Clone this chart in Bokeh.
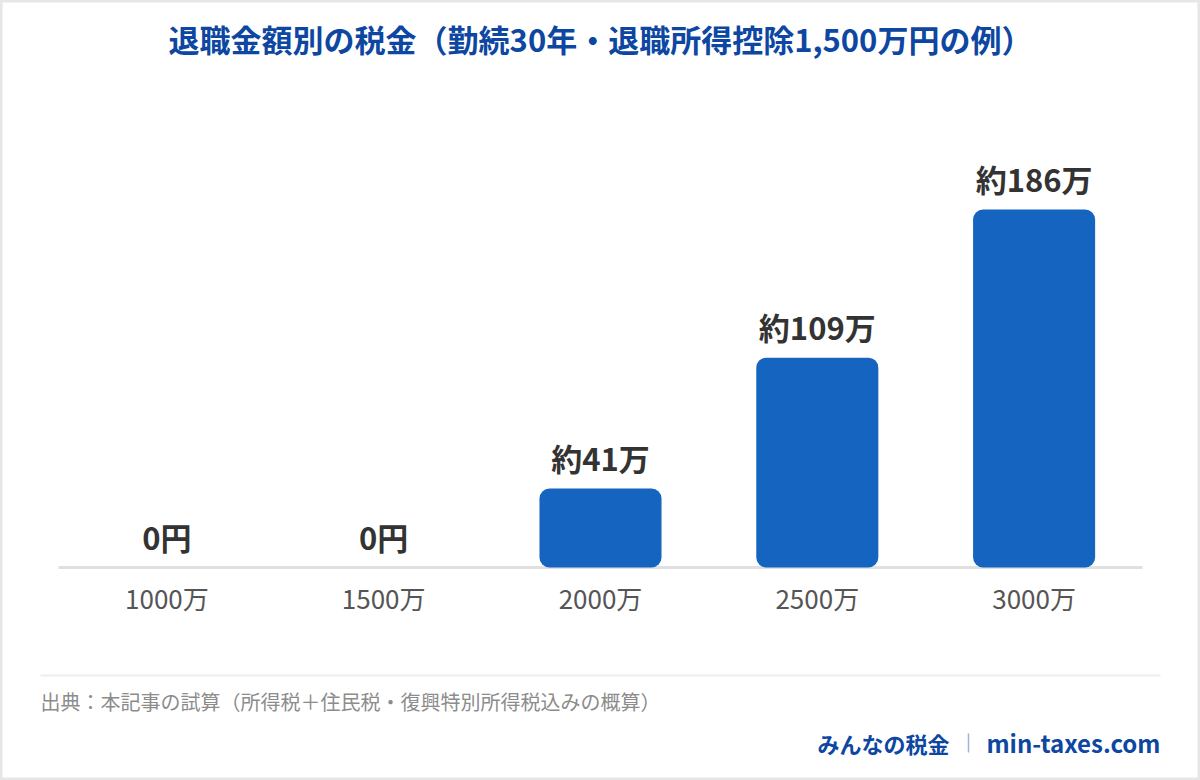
from bokeh.plotting import figure
from bokeh.models import ColumnDataSource, Range1d, FactorRange, Label
from bokeh.core.properties import value
from bokeh.embed import file_html
from bokeh.resources import INLINE

# ---- data ----
categories = ["1000万", "1500万", "2000万", "2500万", "3000万"]
tax_values = [0, 0, 41, 109, 186]
value_labels = ["0円", "0円", "約41万", "約109万", "約186万"]

title_text = "退職金額別の税金（勤続30年・退職所得控除1,500万円の例）"
source_text = "出典：本記事の試算（所得税＋住民税・復興特別所得税込みの概算）"
brand_text = "みんなの税金"
site_text = "min-taxes.com"

FONT = "Noto Sans CJK JP"
BLUE = "#0d47a1"
BAR = "#1565c0"

W, H = 1200, 780
# plot area of the chart in page pixels
PL, PR = 58, 1142       # left / right of category band
BASE = 567              # baseline pixel
PPU = 1.925             # pixels per unit (万円)

ppx = (PR - PL) / len(categories)
pad = (W / ppx - len(categories)) / 2   # applied on each side
x_start = -(PL / ppx)

p = figure(x_range=FactorRange(factors=categories, range_padding=pad,
                               range_padding_units="absolute"),
           y_range=Range1d((BASE - H) / PPU, BASE / PPU),
           width=W, height=H, output_backend="svg", toolbar_location=None,
           min_border=0, y_axis_location=None)
p.outline_line_color = "#e6e6e6"
p.outline_line_width = 4
p.xgrid.visible = False
p.ygrid.visible = False
p.background_fill_color = "white"
p.border_fill_color = "white"

def dx(px):
    return x_start + px / ppx
def dy(py):
    return (BASE - py) / PPU

src = ColumnDataSource(dict(x=categories, top=tax_values, lab=value_labels))

# baseline (drawn first so bars sit on top of it)
p.segment(x0=[dx(PL)], y0=[0], x1=[dx(PR)], y1=[0],
          line_color="#e0e0e0", line_width=3)

p.vbar(x="x", top="top", bottom=0, width=0.563, source=src,
       fill_color=BAR, line_color=None, border_radius=10)

p.text(x="x", y="top", text="lab", source=src, y_offset=-31,
       text_align="center", text_baseline="middle",
       text_font=value(FONT), text_font_style="bold",
       text_font_size="31px", text_color="#333333")

ax = p.xaxis[0]
ax.fixed_location = 0
ax.axis_line_color = None
ax.major_tick_line_color = None
ax.major_tick_out = 0
ax.major_tick_in = 0
ax.major_label_standoff = 11
ax.major_label_text_font = FONT
ax.major_label_text_font_size = "26px"
ax.major_label_text_color = "#555555"

p.add_layout(Label(x=dx(W / 2), y=dy(38), text=title_text, text_align="center",
                   text_baseline="middle", text_font=FONT,
                   text_font_style="bold", text_font_size="31px",
                   text_color=BLUE))

p.segment(x0=[dx(40)], y0=[dy(675)], x1=[dx(1160)], y1=[dy(675)],
          line_color="#eeeeee", line_width=2)

p.add_layout(Label(x=dx(40), y=dy(701), text=source_text, text_align="left",
                   text_baseline="middle", text_font=FONT,
                   text_font_size="20px", text_color="#8c8c8c"))

p.add_layout(Label(x=dx(1160), y=dy(742), text=site_text, text_align="right",
                   text_baseline="middle", text_font=FONT,
                   text_font_style="bold", text_font_size="24px",
                   text_color=BLUE))
p.segment(x0=[dx(968)], y0=[dy(733)], x1=[dx(968)], y1=[dy(752)],
          line_color="#9fb3d9", line_width=1.5)
p.add_layout(Label(x=dx(949), y=dy(742), text=brand_text, text_align="right",
                   text_baseline="middle", text_font=FONT,
                   text_font_style="bold", text_font_size="22px",
                   text_color=BLUE))

open("out.html", "w").write(file_html(p, INLINE))
